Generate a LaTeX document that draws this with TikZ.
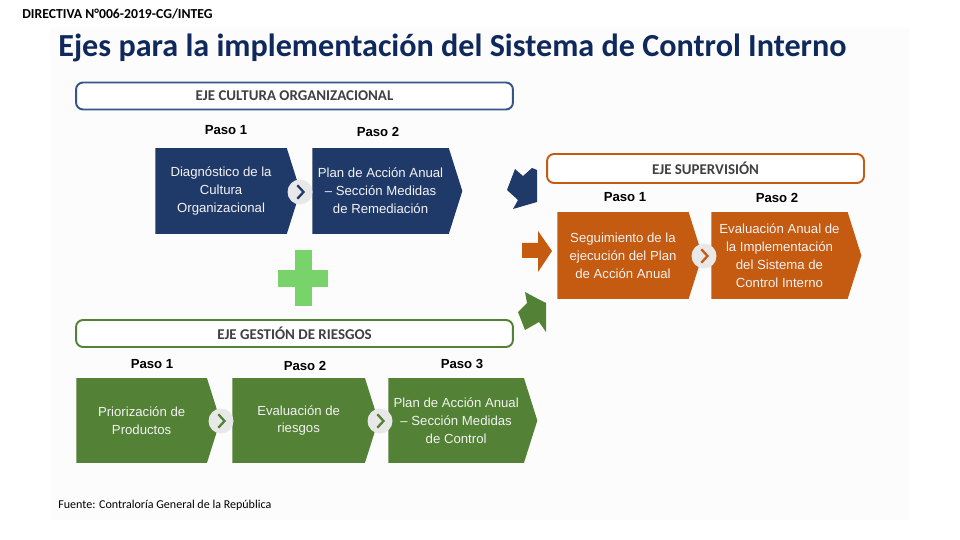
\documentclass[tikz,border=0pt]{standalone}
\usepackage{fontspec}
\setmainfont{Carlito}
\newfontfamily\arialfont{Liberation Sans}
\usepackage{tikz}
\usetikzlibrary{positioning,shapes.symbols}

\definecolor{cultblue}{HTML}{1F3A69}
\definecolor{cultline}{HTML}{34568A}
\definecolor{suporange}{HTML}{C55A11}
\definecolor{riskgreen}{HTML}{538135}
\definecolor{plusgreen}{HTML}{77D36A}
\definecolor{titleblue}{HTML}{10295C}

\begin{document}
\begin{tikzpicture}[x=0.02cm,y=-0.02cm,
    stepbox/.style={shape=signal, signal to=east, signal pointer angle=145,
      anchor=west, inner sep=0pt, minimum height=1.72cm, align=center,
      text=white!90!gray, font=\arialfont\fontsize{7.5}{10.2}\selectfont},
    ejebox/.style={draw, line width=1.1pt, rounded corners=4pt, fill=white,
      minimum height=0.54cm, text=black!75,
      font=\bfseries\fontsize{8.5}{10}\selectfont},
    paso/.style={font=\arialfont\bfseries\fontsize{7.5}{9}\selectfont},
    sepdot/.style={circle, fill=gray!18, minimum size=0.5cm, inner sep=0pt}]
  \useasboundingbox (0,0) rectangle (960,540);
  \fill[white!99!black] (50,28) rectangle (910,520);

  % titulos
  \node[anchor=base west, inner sep=0pt, font=\bfseries\fontsize{7.8}{9}\selectfont] (directiva) at (22,19) {DIRECTIVA N°006-2019-CG/INTEG};
  \node[anchor=base west, inner sep=0pt, text=titleblue, font=\bfseries\fontsize{18.3}{21}\selectfont] (titulo) at (58,57) {Ejes para la implementación del Sistema de Control Interno};

  % eje cultura organizacional
  \node[ejebox, draw=cultline, minimum width=8.74cm] (cultura) at (294.5,96) {EJE CULTURA ORGANIZACIONAL};
  \node[stepbox, fill=cultblue, minimum width=2.9cm] (c1) at (155,191) {Diagnóstico de la\\Cultura\\Organizacional};
  \node[stepbox, fill=cultblue, minimum width=3.0cm] (c2) at (312,191) {Plan de Acción Anual\\– Sección Medidas\\de Remediación};
  \node[paso] (pc1) at (226,130) {Paso 1};
  \node[paso] (pc2) at (378,132) {Paso 2};

  % signo mas
  \fill[plusgreen] (295,250) rectangle (312,306);
  \fill[plusgreen] (278,270) rectangle (328,287);

  % eje gestion de riesgos
  \node[ejebox, draw=riskgreen, minimum width=8.74cm] (riesgos) at (294.5,333.5) {EJE GESTIÓN DE RIESGOS};
  \node[stepbox, fill=riskgreen, minimum height=1.7cm, minimum width=2.88cm] (r1) at (76,420.5) {Priorización de\\Productos};
  \node[stepbox, fill=riskgreen, minimum height=1.7cm, minimum width=2.92cm] (r2) at (232,420.5) {Evaluación de\\riesgos};
  \node[stepbox, fill=riskgreen, minimum height=1.7cm, minimum width=2.98cm] (r3) at (388,420.5) {Plan de Acción Anual\\– Sección Medidas\\de Control};
  \node[paso] (pr1) at (152,364) {Paso 1};
  \node[paso] (pr2) at (305,366) {Paso 2};
  \node[paso] (pr3) at (462,364) {Paso 3};

  % eje supervision
  \node[ejebox, draw=suporange, minimum width=6.34cm, minimum height=0.58cm] (supervision) at (705.5,168.5) {EJE SUPERVISIÓN};
  \node[stepbox, fill=suporange, minimum height=1.74cm, minimum width=2.9cm] (s1) at (557,255.5) {Seguimiento de la\\ejecución del Plan\\de Acción Anual};
  \node[stepbox, fill=suporange, minimum height=1.74cm, minimum width=3.0cm] (s2) at (711,255.5) {Evaluación Anual de\\la Implementación\\del Sistema de\\Control Interno};
  \node[paso] (ps1) at (625,197) {Paso 1};
  \node[paso] (ps2) at (777,198) {Paso 2};

  % separadores entre pasos
  \foreach \n/\px/\py/\c in {sc/300/192/cultblue, sr1/221/421/riskgreen, sr2/380/421/riskgreen, ss/704/256/suporange}{
    \node[sepdot] (\n) at (\px,\py) {};
    \draw[\c, line width=1.3pt] ([xshift=-1.5pt,yshift=3.8pt]\n.center) -- ([xshift=2pt]\n.center) -- ([xshift=-1.5pt,yshift=-3.8pt]\n.center);
  }

  % flechas hacia supervision
  \fill[cultblue] (515,169) -- (523,176) -- (532,168) -- (537,170) -- (537,202) -- (513,209) -- (518,200) -- (507,190) -- cycle;
  \fill[suporange] (522,243) -- (538,243) -- (538,231) -- (552,251) -- (538,272) -- (538,258) -- (522,258) -- cycle;
  \fill[riskgreen] (525,292) -- (540,300) -- (546,303) -- (546,332) -- (539,322) -- (525,330) -- (518,312) -- (527,303) -- cycle;

  % fuente
  \node[anchor=base west, inner sep=0pt, font=\fontsize{6.85}{8}\selectfont] (fuente) at (58,508) {Fuente: Contraloría General de la República};
\end{tikzpicture}
\end{document}
